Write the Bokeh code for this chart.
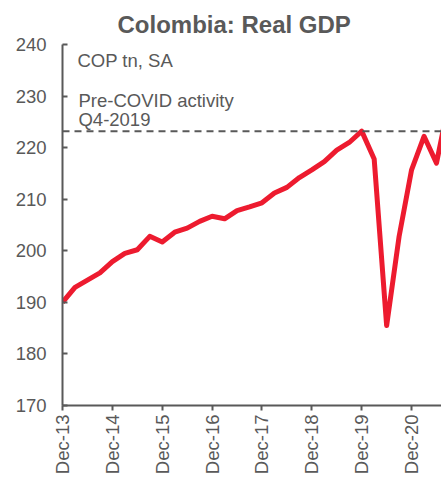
import math

from bokeh.embed import file_html
from bokeh.models import ColumnDataSource, FixedTicker, Label, Range1d, Span, Title
from bokeh.plotting import figure
from bokeh.resources import INLINE

# Quarterly real GDP, COP trillions, seasonally adjusted
quarters = [
    "Dec-13", "Mar-14", "Jun-14", "Sep-14", "Dec-14", "Mar-15", "Jun-15", "Sep-15",
    "Dec-15", "Mar-16", "Jun-16", "Sep-16", "Dec-16", "Mar-17", "Jun-17", "Sep-17",
    "Dec-17", "Mar-18", "Jun-18", "Sep-18", "Dec-18", "Mar-19", "Jun-19", "Sep-19",
    "Dec-19", "Mar-20", "Jun-20", "Sep-20", "Dec-20", "Mar-21", "Jun-21", "Sep-21",
]
gdp = [
    190.0, 192.9, 194.3, 195.7, 197.9, 199.5, 200.2, 202.8,
    201.7, 203.6, 204.4, 205.7, 206.7, 206.2, 207.8, 208.5,
    209.3, 211.2, 212.3, 214.2, 215.7, 217.3, 219.5, 221.0,
    223.2, 217.8, 185.5, 202.8, 215.7, 222.2, 217.0, 229.0,
]
y_ticks = [170, 180, 190, 200, 210, 220, 230, 240]
x_tick_labels = ["Dec-13", "Dec-14", "Dec-15", "Dec-16", "Dec-17", "Dec-18", "Dec-19", "Dec-20"]
pre_covid_quarter = "Dec-19"

GREY = "#595959"
RED = "#ED1B2F"
FONT = "Liberation Sans"

idx = list(range(len(quarters)))
src = ColumnDataSource(data=dict(x=idx, y=gdp, q=quarters))

p = figure(
    width=441, height=477,
    output_backend="svg", toolbar_location=None,
    x_range=Range1d(0, 30.4), y_range=Range1d(170, 240),
    min_border_left=62, min_border_right=0, min_border_top=44, min_border_bottom=70,
)
p.outline_line_color = None
p.grid.visible = False
p.background_fill_color = "white"
p.border_fill_color = "white"

p.title = Title(
    text="Colombia: Real GDP", align="left", offset=55, standoff=13,
    text_font=FONT, text_font_size="24px", text_font_style="bold", text_color=GREY,
)

# pre-COVID reference level
pre_level = gdp[quarters.index(pre_covid_quarter)]
p.add_layout(Span(location=pre_level, dimension="width", line_color=GREY,
                  line_width=2, line_dash="7 5"))

p.line("x", "y", source=src, line_color=RED, line_width=5, line_join="round")

# axes
yax = p.yaxis[0]
yax.ticker = FixedTicker(ticks=y_ticks)
yax.major_tick_in = 5
yax.major_tick_out = 0
yax.minor_tick_line_color = None
yax.axis_line_color = GREY
yax.axis_line_width = 2
yax.major_tick_line_color = GREY
yax.major_tick_line_width = 2
yax.major_label_text_font = FONT
yax.major_label_text_font_size = "18.5px"
yax.major_label_text_color = GREY
yax.major_label_standoff = 16

xax = p.xaxis[0]
tick_pos = [quarters.index(q) for q in x_tick_labels]
xax.ticker = FixedTicker(ticks=tick_pos)
xax.major_label_overrides = {i: q for i, q in zip(tick_pos, x_tick_labels)}
xax.major_label_orientation = math.pi / 2
xax.major_tick_in = 0
xax.major_tick_out = 5
xax.minor_tick_line_color = None
xax.axis_line_color = GREY
xax.axis_line_width = 2
xax.major_tick_line_color = GREY
xax.major_tick_line_width = 2
xax.major_label_text_font = FONT
xax.major_label_text_font_size = "18.5px"
xax.major_label_text_color = GREY
xax.major_label_standoff = 4

# annotations inside the plot
for txt, lx, ly in [("COP tn, SA", 1.2, 236.9),
                    ("Pre-COVID activity", 1.28, 229.2),
                    ("Q4-2019", 1.28, 225.4)]:
    p.add_layout(Label(x=lx, y=ly, text=txt, text_baseline="alphabetic",
                       text_font=FONT, text_font_size="18.5px", text_color=GREY))

open("out.html", "w").write(file_html(p, INLINE))
